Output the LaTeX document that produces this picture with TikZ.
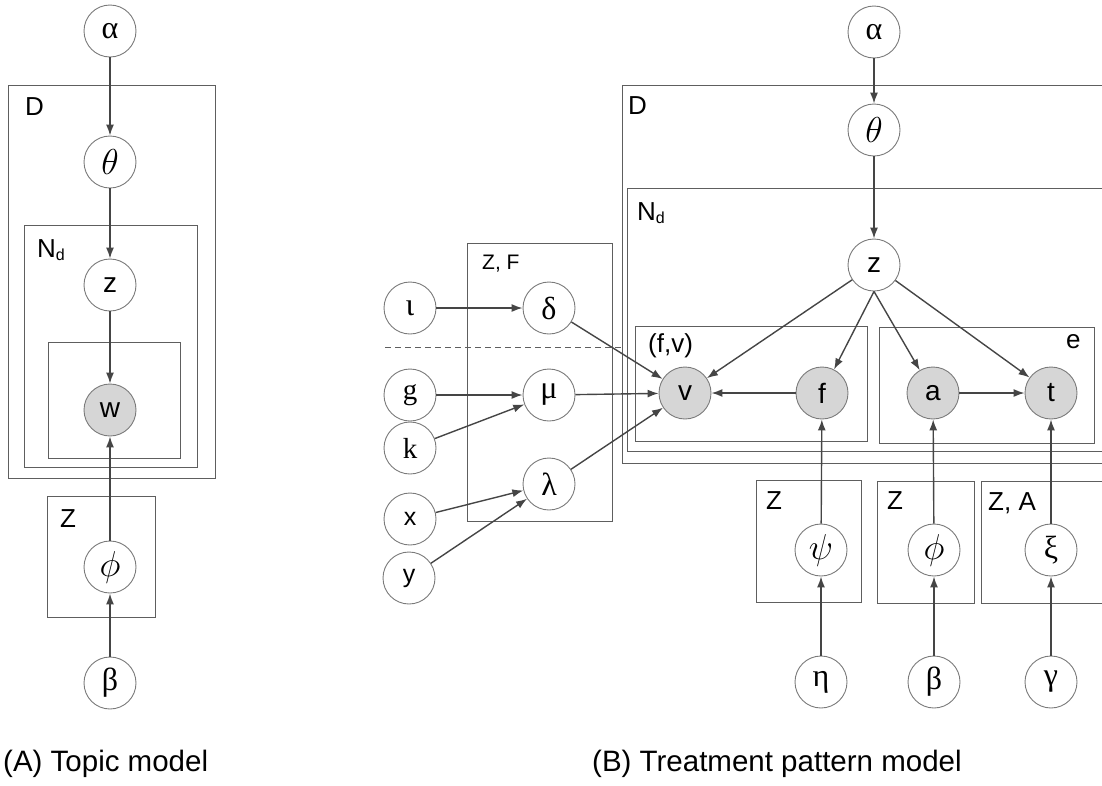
\RequirePackage{fix-cm}
\documentclass[tikz,border=0pt]{standalone}
\usepackage{fontspec}
\setmainfont{Liberation Sans}
\newfontfamily\grk{Liberation Serif}
\usetikzlibrary{arrows.meta}
\definecolor{lineg}{HTML}{454545}
\definecolor{circg}{HTML}{7A7A7A}
\definecolor{plateg}{HTML}{5E5E5E}
\definecolor{obsfill}{HTML}{D6D6D6}
\begin{document}
\begin{tikzpicture}[x=1pt,y=-1pt,
  var/.style={circle, draw=circg, line width=0.9pt, fill=white, minimum size=52pt, inner sep=0pt},
  obs/.style={var, fill=obsfill},
  plate/.style={draw=plateg, line width=0.9pt},
  edge/.style={draw=lineg, line width=1.4pt, -{Latex[length=11pt,width=8pt]}},
  lab/.style={font=\fontsize{26}{26}\selectfont, anchor=base west, inner sep=0pt},
  smalllab/.style={font=\fontsize{21}{21}\selectfont, anchor=base west, inner sep=0pt},
  captext/.style={font=\fontsize{29.5}{29.5}\selectfont, anchor=base west, inner sep=0pt},
  gk/.style={font=\grk\fontsize{32}{32}\selectfont},
  it/.style={font=\fontsize{36}{36}\selectfont},
  sans/.style={font=\fontsize{28}{28}\selectfont},
]
\useasboundingbox (0,0) rectangle (1102,785);

% ---------- (A) plates ----------
\draw[plate] (8,85) rectangle (215,478);
\draw[plate] (24,225) rectangle (197,467);
\draw[plate] (48,342) rectangle (180,458);
\draw[plate] (47,496) rectangle (155,617);
\node[lab] (lD1) at (25,115) {D};
\node[lab] (lN1) at (37,257) {N{\fontsize{16}{16}\selectfont\raisebox{-3pt}{d}}};
\node[lab] (lZ1) at (60,527) {Z};

% ---------- (A) nodes ----------
\node[var, gk] (a1) at (110,31) {α};
\node[var, it] (th1) at (110,162) {$\theta$};
\node[var, sans] (z1) at (110,285) {z};
\node[obs, sans] (w1) at (110,410) {w};
\node[var, it] (ph1) at (110,567) {$\phi$};
\node[var, gk] (b1) at (110,683) {β};

\draw[edge] (a1) -- (th1);
\draw[edge] (th1) -- (z1);
\draw[edge] (z1) -- (w1);
\draw[edge] (ph1) -- (w1);
\draw[edge] (b1) -- (ph1);

\node[captext] (capA) at (3,771) {(A) Topic model};

% ---------- (B) plates ----------
\draw[plate] (1104,85) -- (622,85) -- (622,463) -- (1104,463);
\draw[plate] (1104,188) -- (627,188) -- (627,451) -- (1104,451);
\draw[plate] (635,326) rectangle (867,441);
\draw[plate] (879,327) rectangle (1094,443);
\draw[plate] (467,243) rectangle (612,521);
\draw[plate] (756,480) rectangle (861,602);
\draw[plate] (877,481) rectangle (974,603);
\draw[plate] (1104,481) -- (981,481) -- (981,603) -- (1104,603);
\draw[plateg, line width=0.8pt, dash pattern=on 6pt off 4pt] (385,347) -- (623,347);

\node[lab] (lD2) at (628,114) {D};
\node[lab] (lN2) at (637,220) {N{\fontsize{16}{16}\selectfont\raisebox{-3pt}{d}}};
\node[lab] (lfv) at (648,352) {(f,v)};
\node[lab] (le) at (1066,348) {e};
\node[smalllab] (lZF) at (482,269) {Z, F};
\node[lab] (lZa) at (766,509) {Z};
\node[lab] (lZb) at (887,509) {Z};
\node[lab] (lZA) at (988,510) {Z, A};

% ---------- (B) nodes ----------
\node[var, gk] (a2) at (874,32) {α};
\node[var, it] (th2) at (874,130) {$\theta$};
\node[var, sans] (z2) at (874,265) {z};
\node[obs, sans] (v) at (685,393) {v};
\node[obs, sans] (f) at (822,393) {f};
\node[obs, sans] (a) at (933,393) {a};
\node[obs, sans] (t) at (1051,393) {t};

\node[var, gk] (iota) at (410,308) {ι};
\node[var, gk] (delta) at (549,308) {δ};
\node[var, gk, font=\grk\fontsize{29}{29}\selectfont] (g) at (410,395) {g};
\node[var, gk] (mu) at (549,395) {μ};
\node[var, gk, font=\grk\fontsize{29}{29}\selectfont] (k) at (410,448) {k};
\node[var, gk] (lam) at (549,484) {λ};
\node[var, font=\fontsize{25}{25}\selectfont] (x) at (410,519) {x};
\node[var, font=\fontsize{25}{25}\selectfont] (y) at (409,578) {y};

\node[var, it] (psi) at (821,550) {$\psi$};
\node[var, it] (ph2) at (934,550) {$\phi$};
\node[var, gk] (xi) at (1051,550) {ξ};
\node[var, gk] (eta) at (821,682) {η};
\node[var, gk] (b2) at (934,682) {β};
\node[var, gk] (gam) at (1051,682) {γ};

\draw[edge] (a2) -- (th2);
\draw[edge] (th2) -- (z2);
\draw[edge] (z2) -- (v);
\draw[edge] (z2.south) -- (f);
\draw[edge] (z2.south) -- (a);
\draw[edge] (z2) -- (t);
\draw[edge] (f) -- (v);
\draw[edge] (a) -- (t);
\draw[edge] (psi) -- (f);
\draw[edge] (ph2) -- (a);
\draw[edge] (xi) -- (t);
\draw[edge] (eta) -- (psi);
\draw[edge] (b2) -- (ph2);
\draw[edge] (gam) -- (xi);

\draw[edge] (iota) -- (delta);
\draw[edge] (g) -- (mu);
\draw[edge] (k) -- (mu);
\draw[edge] (x) -- (lam);
\draw[edge] (y) -- (lam);
\draw[edge] (delta) -- (v);
\draw[edge] (mu) -- (v);
\draw[edge] (lam) -- (v);

\node[captext] (capB) at (592,771) {(B) Treatment pattern model};
\end{tikzpicture}
\end{document}
